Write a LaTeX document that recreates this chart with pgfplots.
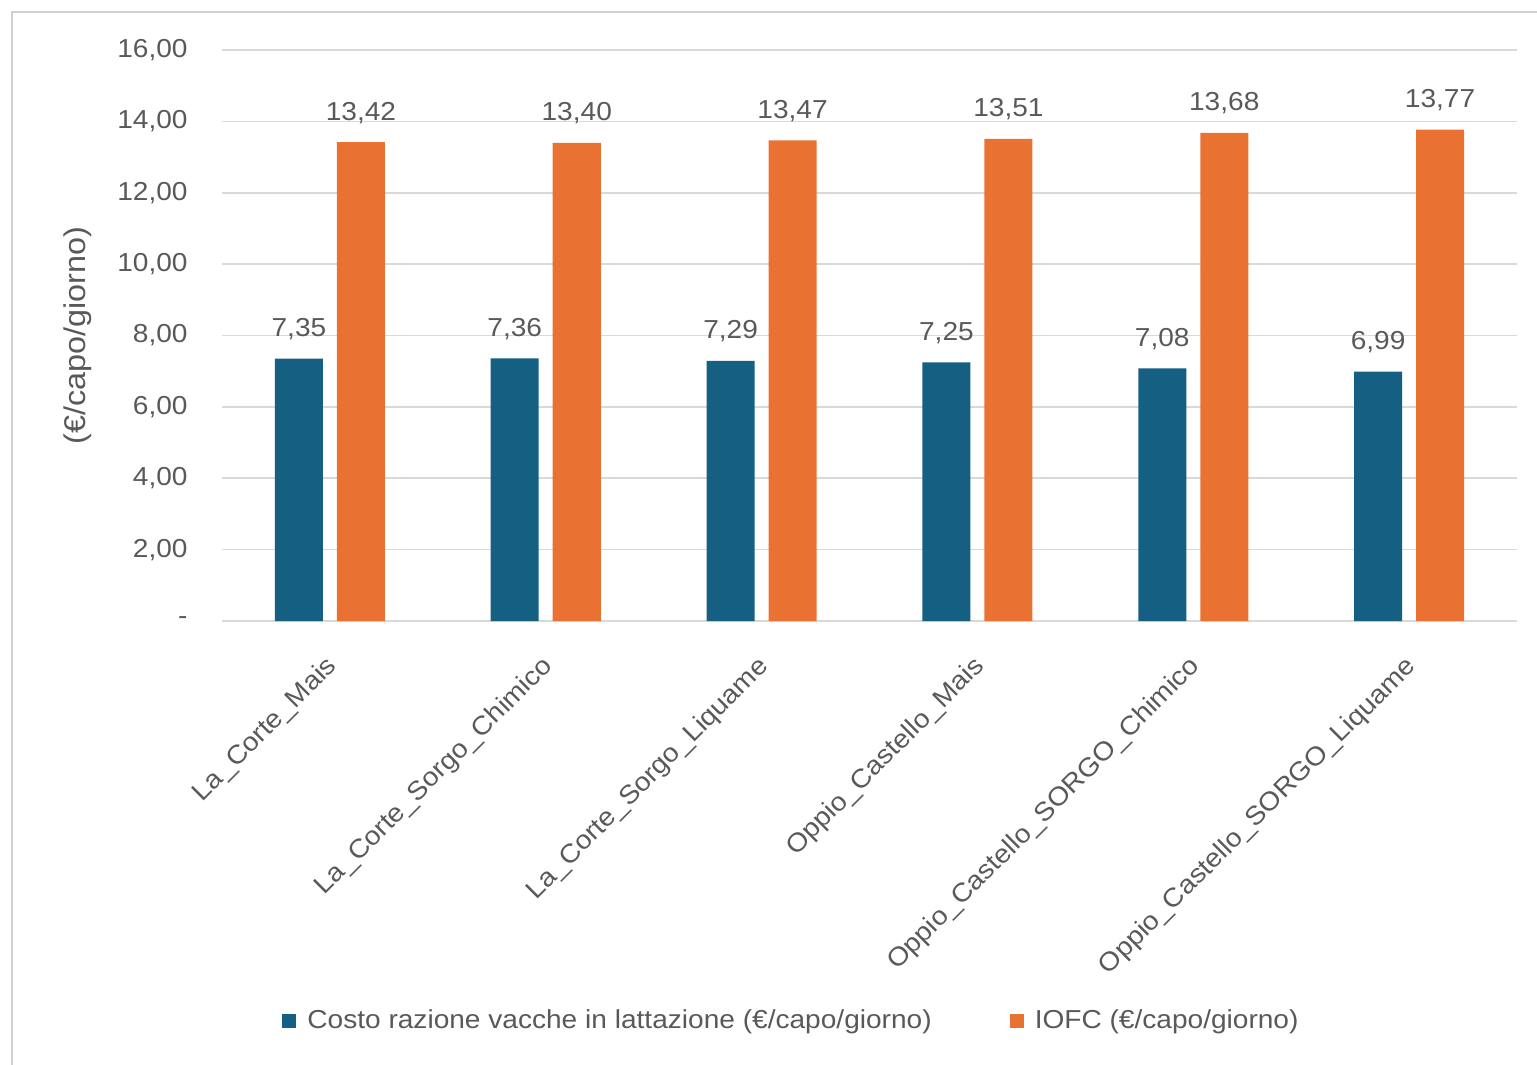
\documentclass[border=0pt]{standalone}
\usepackage{pgfplots}
\pgfplotsset{compat=1.18}
\usepackage{pgfplotstable}
\usepackage{fontspec}
\setmainfont{Liberation Sans}[FakeStretch=1.08]

\definecolor{costo}{HTML}{156082}
\definecolor{iofc}{HTML}{E97132}
\definecolor{txt}{HTML}{595959}
\definecolor{gridc}{HTML}{D9D9D9}
\definecolor{framec}{HTML}{D0D0D0}

% costo razione e IOFC per scenario (euro/capo/giorno)
\pgfplotstableread{
idx costo iofc
0   7.35  13.42
1   7.36  13.40
2   7.29  13.47
3   7.25  13.51
4   7.08  13.68
5   6.99  13.77
}\datatable

\begin{document}
\begin{tikzpicture}
\path[use as bounding box] (-111pt,-222pt) rectangle (657.5pt,310.5pt);
\draw[framec, line width=1.2pt] (-105pt,-222pt) -- (-105pt,304.5pt) -- (657.5pt,304.5pt);
\begin{axis}[
  at={(0pt,0pt)}, anchor=south west,
  scale only axis, width=647.5pt, height=285.5pt,
  xmin=-0.5, xmax=5.5, ymin=0, ymax=16,
  ytick={0,2,...,16},
  yticklabels={{-\hspace{8pt}},{2,00},{4,00},{6,00},{8,00},{10,00},{12,00},{14,00},{16,00}},
  xtick={0,...,5},
  xticklabels={La\_Corte\_Mais,La\_Corte\_Sorgo\_Chimico,La\_Corte\_Sorgo\_Liquame,Oppio\_Castello\_Mais,Oppio\_Castello\_SORGO\_Chimico,Oppio\_Castello\_SORGO\_Liquame},
  axis line style={draw=none},
  major tick length=0pt,
  ymajorgrids, grid style={gridc, line width=0.8pt},
  tick label style={font=\fontsize{13}{15}\selectfont, text=txt},
  yticklabel style={anchor=east, inner sep=0pt, xshift=-17pt},
  xticklabel style={rotate=45, anchor=north east, inner sep=0pt, xshift=-13.5pt, yshift=-9.5pt},
  ylabel={(€/capo/giorno)},
  ylabel style={at={(axis description cs:-0.1112,0.5)}, anchor=center, font=\fontsize{15}{17}\selectfont, text=txt},
  ybar, bar width=24pt,
  nodes near coords={\pgfmathprintnumber[fixed,fixed zerofill,precision=2,use comma,assume math mode=true]{\pgfplotspointmeta}},
  every node near coord/.append style={font=\fontsize{13}{15}\selectfont, text=txt, anchor=base, yshift=11pt, inner sep=0pt},
  legend columns=2,
  legend image code/.code={\fill (0pt,-3.5pt) rectangle (7pt,3.5pt);},
  legend style={at={(axis description cs:0.0417,-0.7005)}, anchor=west, draw=none, fill=none,
    font=\fontsize{13}{15}\selectfont, text=txt,
    /tikz/every odd column/.append style={column sep=3.5pt},
    /tikz/every even column/.append style={column sep=37pt}},
]
\addplot[fill=costo, draw=none, bar shift=-15.5pt] table[x=idx,y=costo]{\datatable};
\addplot[fill=iofc, draw=none, bar shift=15.5pt] table[x=idx,y=iofc]{\datatable};
\legend{Costo razione vacche in lattazione (€/capo/giorno), IOFC (€/capo/giorno)}
\end{axis}
\end{tikzpicture}
\end{document}
